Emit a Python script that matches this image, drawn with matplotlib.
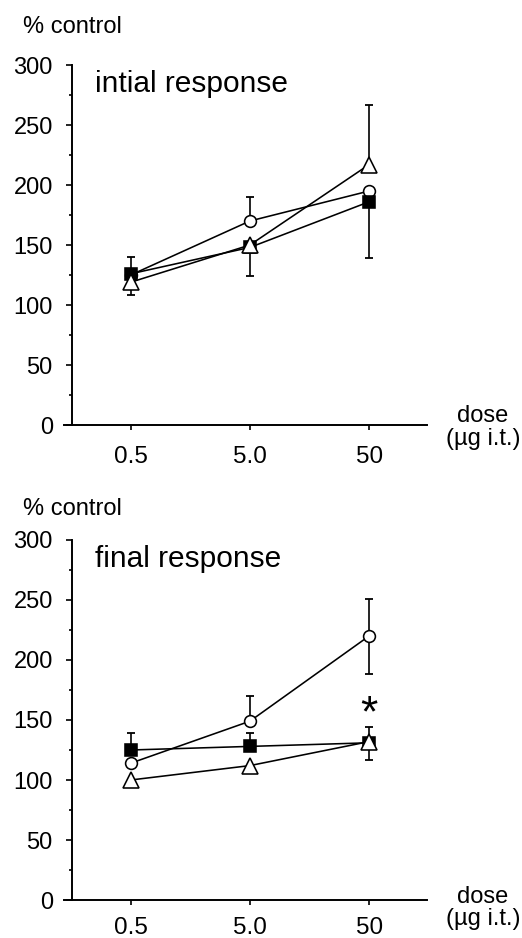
import matplotlib
matplotlib.use("Agg")
import matplotlib.pyplot as plt
from matplotlib.ticker import MultipleLocator

plt.rcParams['font.family'] = ['Liberation Sans', 'DejaVu Sans']

# ==============================
# DATA
# ==============================

doses = ["0.5", "5.0", "50"]

# initial response
initial_circle = [125, 170, 195]
initial_circle_up = [0, 20, 0]
initial_circle_down = [0, 0, 0]

initial_square = [126, 148, 186]
initial_square_up = [14, 0, 0]
initial_square_down = [0, 24, 47]

initial_triangle = [119, 150, 217]
initial_triangle_up = [0, 0, 50]
initial_triangle_down = [11, 0, 0]

# final response
final_circle = [114, 149, 220]
final_circle_up = [0, 21, 31]
final_circle_down = [0, 0, 32]

final_square = [125, 128, 131]
final_square_up = [14, 11, 0]
final_square_down = [0, 0, 14]

final_triangle = [100, 112, 132]
final_triangle_up = [0, 0, 12]
final_triangle_down = [6, 5, 0]

# ==============================
# HELPERS
# ==============================

x = list(range(len(doses)))


def draw_errors(ax, y, up, down):
    for xi, yi, hi, lo in zip(x, y, up, down):
        if not (hi or lo):
            continue
        ax.vlines(xi, yi - lo, yi + hi, color="black", lw=1.2, zorder=2)
        ends = []
        if hi:
            ends.append(yi + hi)
        if lo:
            ends.append(yi - lo)
        ax.plot([xi] * len(ends), ends, ls="none", marker="_", ms=5.3,
                mew=1.3, color="black", zorder=2)


def draw_panel(ax, series, title, xpad):
    # connecting lines first, markers on top
    for y, up, down, marker, face, ms in series:
        ax.plot(x, y, color="black", lw=1.15, zorder=2)
        draw_errors(ax, y, up, down)
    z = 3
    for y, up, down, marker, face, ms in series:
        ax.plot(x, y, ls="none", marker=marker, ms=ms, mfc=face,
                mec="black", mew=1.15, zorder=z)
        z += 1

    ax.set_xlim(-0.56, 2.486)
    ax.set_ylim(0, 300)
    ax.set_xticks(x)
    ax.set_xticklabels(doses)
    ax.yaxis.set_major_locator(MultipleLocator(50))
    ax.yaxis.set_minor_locator(MultipleLocator(25))

    ax.spines["top"].set_visible(False)
    ax.spines["right"].set_visible(False)
    ax.spines["left"].set_position(("data", -0.497))
    ax.spines["left"].set_linewidth(1.4)
    ax.spines["bottom"].set_linewidth(1.4)

    ax.tick_params(axis="y", which="major", direction="out", length=4,
                   width=1.2, pad=9.5, labelsize=17)
    ax.tick_params(axis="y", which="minor", direction="out", length=2.5,
                   width=1.2)
    ax.tick_params(axis="x", direction="out", length=3.5, width=1.2,
                   pad=xpad, labelsize=17.5)

    ax.text(0.085, 0.925, title, transform=ax.transAxes, fontsize=21.5,
            va="baseline", ha="left")


# ==============================
# FIGURE
# ==============================

fig = plt.figure(figsize=(5.22, 9.38), dpi=100)
ax1 = fig.add_axes([0.1226, 0.5469, 0.6954, 0.3838])
ax2 = fig.add_axes([0.1226, 0.04051, 0.6954, 0.3838])

draw_panel(ax1, [
    (initial_circle, initial_circle_up, initial_circle_down, "o", "white", 8.5),
    (initial_square, initial_square_up, initial_square_down, "s", "black", 8.5),
    (initial_triangle, initial_triangle_up, initial_triangle_down, "^", "white", 11),
], "intial response", 11.5)

draw_panel(ax2, [
    (final_circle, final_circle_up, final_circle_down, "o", "white", 8.5),
    (final_square, final_square_up, final_square_down, "s", "black", 8.5),
    (final_triangle, final_triangle_up, final_triangle_down, "^", "white", 11),
], "final response", 9)

# significance mark
ax2.text(2, 145, "*", fontsize=32, ha="center", va="baseline")

# axis captions
fig.text(23 / 522, 1 - 33 / 938, "% control", fontsize=17, va="baseline")
fig.text(23 / 522, 1 - 515 / 938, "% control", fontsize=17, va="baseline")

fig.text(483 / 522, 1 - 422 / 938, "dose", fontsize=17, ha="center", va="baseline")
fig.text(483 / 522, 1 - 445 / 938, "(\u00b5g i.t.)", fontsize=17, ha="center", va="baseline")
fig.text(483 / 522, 1 - 903 / 938, "dose", fontsize=17, ha="center", va="baseline")
fig.text(483 / 522, 1 - 925 / 938, "(\u00b5g i.t.)", fontsize=17, ha="center", va="baseline")

fig.savefig("out.png", dpi=100, facecolor="white")
